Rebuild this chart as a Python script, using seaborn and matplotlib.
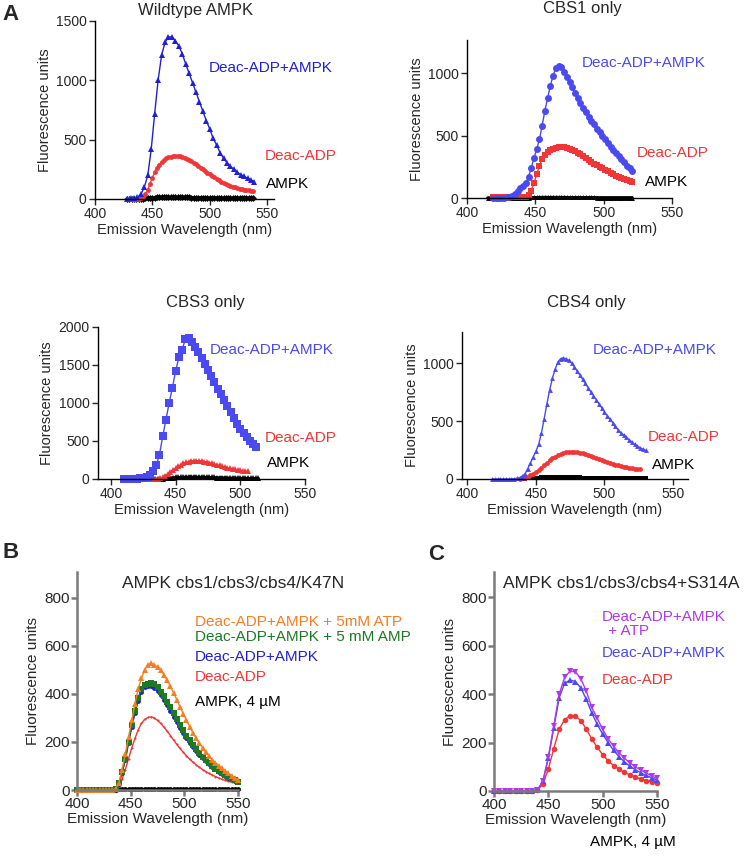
import numpy as np
import seaborn as sns
import matplotlib.pyplot as plt

sns.set_style("ticks")
plt.rcParams['font.family'] = ['Liberation Sans', 'DejaVu Sans']

W, H = 745, 856

# ---------------- data ----------------
# Panel A, Wildtype AMPK
wt_blue_x0, wt_blue_dx = 428, 3
wt_blue = [2, 5, 8, 15, 40, 100, 200, 420, 720, 1000, 1210, 1320, 1365, 1365, 1335,
           1290, 1225, 1140, 1060, 980, 900, 820, 740, 660, 590, 510, 455, 390, 345,
           305, 275, 250, 225, 205, 190, 175, 160, 146]
wt_red_x0, wt_red_dx = 428, 2
wt_red = [0, 0, 0, 0, 0, 0, 5, 15, 40, 80, 130, 180, 225, 260, 290, 312, 330, 342, 350,
          356, 360, 362, 362, 360, 355, 348, 340, 330, 318, 305, 292, 278, 264, 250, 236,
          222, 208, 195, 182, 170, 158, 147, 137, 128, 120, 112, 105, 99, 93, 88, 83, 79,
          75, 72, 69, 66]
wt_black_x0, wt_black_dx = 428, 2
wt_black = [0, 0, 0, 0, 0, 0, 2, 4, 6, 8, 10, 11, 12, 13, 14, 15, 15, 16, 16, 16, 16, 15,
            15, 15, 14, 14, 13, 13, 12, 12, 11, 11, 10, 10, 9, 9, 9, 8, 8, 8, 7, 7, 7, 6,
            6, 6, 6, 5, 5, 5, 5, 5, 5, 5, 5, 5]

# Panel A, CBS1 only
c1_blue_x0, c1_blue_dx = 419, 2
c1_blue = [0, 0, 0, 0, 2, 5, 10, 20, 35, 55, 80, 100, 120, 170, 240, 320, 390, 470, 580,
           700, 800, 900, 980, 1040, 1060, 1045, 1010, 970, 930, 885, 840, 800, 760, 720,
           690, 650, 620, 590, 555, 525, 500, 470, 440, 410, 385, 360, 335, 310, 285, 260,
           240, 220]
c1_red_x0, c1_red_dx = 419, 2
c1_red = [5, 5, 5, 5, 5, 5, 5, 5, 5, 5, 5, 8, 12, 25, 60, 120, 190, 260, 310, 345, 370,
          385, 395, 400, 405, 405, 405, 400, 395, 385, 375, 362, 350, 335, 320, 305, 290,
          275, 262, 250, 237, 225, 213, 202, 190, 180, 170, 160, 150, 142, 135, 128]
c1_black_x0, c1_black_dx = 415, 2
c1_black = [2, 2, 2, 2, 2, 2, 2, 2, 2, 2, 2, 2, 3, 3, 4, 4, 5, 5, 5, 6, 6, 6, 6, 6, 6, 6,
            6, 6, 6, 5, 5, 5, 5, 5, 5, 5, 5, 5, 5, 5, 4, 4, 4, 4, 4, 4, 4, 4, 4, 4, 4, 4,
            4, 4]

# Panel A, CBS3 only
c3_blue_x0, c3_blue_dx = 410, 2.5
c3_blue = [5, 5, 5, 5, 5, 8, 15, 30, 55, 100, 180, 320, 560, 780, 1000, 1200, 1420, 1600,
           1700, 1840, 1850, 1800, 1740, 1670, 1590, 1510, 1430, 1350, 1270, 1190, 1120,
           1040, 960, 880, 800, 730, 660, 600, 550, 500, 460, 425]
c3_red_x0, c3_red_dx = 410, 2
c3_red = [0, 0, 0, 0, 0, 0, 0, 0, 0, 0, 0, 0, 2, 5, 12, 25, 45, 70, 95, 120, 145, 168,
          188, 205, 218, 228, 235, 240, 242, 240, 236, 230, 224, 216, 208, 198, 188, 178,
          168, 158, 150, 142, 135, 128, 122, 116, 111, 106, 102]
c3_black_x0, c3_black_dx = 410, 2
c3_black = [0, 0, 0, 0, 0, 0, 0, 0, 0, 0, 0, 0, 0, 0, 2, 5, 8, 12, 15, 18, 20, 22, 24, 25,
            26, 27, 27, 27, 26, 26, 25, 24, 23, 22, 21, 20, 19, 18, 17, 16, 15, 14, 13,
            13, 12, 11, 11, 10, 10, 9, 9, 8, 8]

# Panel A, CBS4 only
c4_blue_x0, c4_blue_dx = 418, 2
c4_blue = [0, 0, 0, 0, 0, 0, 0, 0, 2, 5, 12, 22, 45, 90, 140, 190, 240, 300, 400, 520,
           650, 770, 870, 950, 1010, 1040, 1045, 1040, 1025, 1000, 970, 935, 900, 862,
           827, 790, 755, 720, 685, 650, 615, 580, 548, 518, 488, 455, 425, 400, 380, 360,
           340, 320, 300, 285, 270, 258, 248]
c4_red_x0, c4_red_dx = 438, 2
c4_red = [0, 5, 12, 20, 32, 45, 60, 78, 98, 118, 140, 160, 178, 193, 207, 218, 226, 232,
          235, 237, 236, 233, 228, 222, 215, 207, 198, 189, 180, 171, 162, 153, 145, 137,
          130, 123, 117, 111, 106, 101, 97, 93, 90, 87, 84]
c4_black_x0, c4_black_dx = 440, 2
c4_black = [2, 3, 5, 7, 9, 11, 12, 13, 14, 15, 15, 16, 16, 16, 16, 15, 15, 15, 14, 14, 13,
            13, 12, 12, 11, 11, 10, 10, 10, 9, 9, 9, 8, 8, 8, 8, 7, 7, 7, 7, 6, 6, 6, 6,
            6, 6]

# Panel B, AMPK cbs1/cbs3/cbs4/K47N
b_x0, b_dx = 400, 3
b_orange = [0] * 12 + [5, 30, 85, 150, 220, 290, 360, 420, 465, 500, 520, 527, 522, 512,
                       498, 480, 458, 432, 405, 376, 346, 318, 290, 263, 238, 215, 195,
                       176, 158, 142, 127, 114, 102, 91, 80, 70, 60, 50, 40]
b_green = [0] * 12 + [5, 28, 75, 130, 200, 270, 330, 385, 420, 438, 443, 444, 440, 428,
                      410, 390, 368, 344, 320, 296, 272, 249, 227, 207, 188, 170, 154, 139,
                      125, 112, 100, 89, 79, 70, 61, 53, 46, 40, 35]
b_blue = [0] * 12 + [5, 25, 70, 125, 195, 262, 320, 372, 408, 428, 435, 433, 425, 412,
                     395, 375, 353, 330, 306, 283, 260, 238, 217, 197, 179, 162, 147, 133,
                     120, 108, 97, 87, 77, 68, 60, 52, 45, 39, 34]
b_red = [0] * 12 + [3, 15, 45, 85, 130, 175, 215, 250, 277, 294, 302, 305, 300, 290, 277,
                    262, 245, 227, 208, 190, 173, 157, 142, 128, 116, 105, 95, 85, 77, 69,
                    62, 56, 50, 45, 40, 36, 33, 30, 28]
b_black = [0] * 12 + [1, 3, 4, 5, 5, 6, 6, 6, 6, 6, 6, 6, 6, 6, 6, 5, 5, 5, 5, 5, 5, 5,
                      4, 4, 4, 4, 4, 4, 4, 4, 4, 3, 3, 3, 3, 3, 3, 3, 3]

# Panel C, AMPK cbs1/cbs3/cbs4+S314A
c_x0, c_dx = 400, 5
c_magenta = [0, 0, 0, 0, 0, 0, 0, 0, 5, 40, 140, 270, 400, 470, 495, 492, 462, 412, 345,
             300, 255, 215, 185, 158, 135, 117, 100, 86, 75, 62, 52]
c_blue = [0, 0, 0, 0, 0, 0, 0, 0, 5, 40, 135, 260, 385, 445, 458, 452, 425, 378, 322, 275,
          235, 200, 168, 142, 120, 103, 88, 75, 64, 55, 45]
c_red = [0, 0, 0, 0, 0, 0, 0, 0, 3, 30, 90, 175, 255, 295, 310, 310, 290, 255, 215, 180,
         150, 125, 105, 90, 77, 66, 57, 50, 43, 38, 33]

BLUE_D = '#2020d2'
BLUE_L = '#4a4af0'
RED = '#f03636'
ORANGE = '#f57d22'
GREEN = '#1c7a22'
MAGENTA = '#b038e8'

fig = plt.figure(figsize=(W / 100, H / 100), dpi=100)


def add_ax(l, t, r, b):
    return fig.add_axes([l / W, 1 - b / H, (r - l) / W, (b - t) / H])


def series(ax, x0, dx, vals, color, marker, ms, lw=1.0):
    x = x0 + dx * np.arange(len(vals))
    sns.lineplot(x=x, y=vals, ax=ax, color=color, marker=marker, markersize=ms,
                 markeredgewidth=0, linewidth=lw, clip_on=False)


def ftext(x, y, s, **kw):
    fig.text(x / W, 1 - y / H, s, va='center', **kw)


def style_a(ax, xlim, ylim, yticks):
    ax.set_xlim(*xlim)
    ax.set_ylim(*ylim)
    ax.set_xticks([400, 450, 500, 550])
    ax.set_yticks(yticks)
    sns.despine(ax=ax)
    for s in ['left', 'bottom']:
        ax.spines[s].set_linewidth(1.0)
        ax.spines[s].set_color('black')
    ax.tick_params(length=4, width=1, labelsize=10, pad=2)
    ax.set_xlabel('Emission Wavelength (nm)', fontsize=10.5, labelpad=1)
    ax.set_ylabel('Fluorescence units', fontsize=10.5, labelpad=3)


def style_bc(ax, ylim):
    ax.set_xlim(400, 550)
    ax.set_ylim(*ylim)
    ax.set_xticks([400, 450, 500, 550])
    ax.set_yticks([0, 200, 400, 600, 800])
    sns.despine(ax=ax)
    for s in ['left', 'bottom']:
        ax.spines[s].set_linewidth(1.8)
        ax.spines[s].set_color('#7a7a7a')
    ax.tick_params(length=4, width=1.8, color='#7a7a7a', labelsize=11, pad=1)
    ax.set_xlabel('Emission Wavelength (nm)', fontsize=11, labelpad=1)
    ax.set_ylabel('Fluorescence units', fontsize=11, labelpad=3)


# ---- A: Wildtype AMPK
ax = add_ax(95, 21, 274, 199)
series(ax, wt_black_x0, wt_black_dx, wt_black, 'black', 'D', 3.5, lw=2)
series(ax, wt_red_x0, wt_red_dx, wt_red, RED, 'o', 3.5)
series(ax, wt_blue_x0, wt_blue_dx, wt_blue, BLUE_D, '^', 4)
style_a(ax, (400, 556), (0, 1500), [0, 500, 1000, 1500])
ftext(196, 10, 'Wildtype AMPK', ha='center', fontsize=12)
ftext(209, 68, 'Deac-ADP+AMPK', color=BLUE_D, fontsize=11)
ftext(265, 156, 'Deac-ADP', color=RED, fontsize=11)
ftext(266, 184, 'AMPK', color='black', fontsize=11)
ftext(2, 14, 'A', fontsize=16, fontweight='bold')

# ---- A: CBS1 only
ax = add_ax(467, 40, 672, 198)
series(ax, c1_black_x0, c1_black_dx, c1_black, 'black', '^', 3.5, lw=2)
series(ax, c1_red_x0, c1_red_dx, c1_red, RED, 's', 4.5)
series(ax, c1_blue_x0, c1_blue_dx, c1_blue, BLUE_L, 'o', 5)
style_a(ax, (400, 550), (0, 1265), [0, 500, 1000])
ftext(582, 8, 'CBS1 only', ha='center', fontsize=12)
ftext(582, 63, 'Deac-ADP+AMPK', color=BLUE_L, fontsize=11)
ftext(637, 153, 'Deac-ADP', color=RED, fontsize=11)
ftext(645, 182, 'AMPK', color='black', fontsize=11)

# ---- A: CBS3 only
ax = add_ax(98, 327, 305, 479)
series(ax, c3_black_x0, c3_black_dx, c3_black, 'black', '^', 4, lw=2)
series(ax, c3_red_x0, c3_red_dx, c3_red, RED, '^', 5)
series(ax, c3_blue_x0, c3_blue_dx, c3_blue, BLUE_L, 's', 5.5)
style_a(ax, (390, 550), (0, 2000), [0, 500, 1000, 1500, 2000])
ftext(205, 302, 'CBS3 only', ha='center', fontsize=12)
ftext(210, 350, 'Deac-ADP+AMPK', color=BLUE_L, fontsize=11)
ftext(265, 438, 'Deac-ADP', color=RED, fontsize=11)
ftext(267, 463, 'AMPK', color='black', fontsize=11)

# ---- A: CBS4 only
ax = add_ax(462, 332, 688, 479)
series(ax, c4_black_x0, c4_black_dx, c4_black, 'black', 's', 3.5, lw=2)
series(ax, c4_red_x0, c4_red_dx, c4_red, RED, 'o', 3.5)
series(ax, c4_blue_x0, c4_blue_dx, c4_blue, BLUE_L, '^', 3.5)
style_a(ax, (396, 561), (0, 1270), [0, 500, 1000])
ftext(586, 302, 'CBS4 only', ha='center', fontsize=12)
ftext(593, 350, 'Deac-ADP+AMPK', color=BLUE_L, fontsize=11)
ftext(648, 437, 'Deac-ADP', color=RED, fontsize=11)
ftext(652, 465, 'AMPK', color='black', fontsize=11)

# ---- B
ax = add_ax(77, 572, 238, 790)
series(ax, b_x0, b_dx, b_black, 'black', 'o', 3.5)
series(ax, b_x0, b_dx, b_red, RED, 'o', 1.5)
series(ax, b_x0, b_dx, b_blue, BLUE_D, 'o', 3.5)
series(ax, b_x0, b_dx, b_green, GREEN, 's', 4.5)
series(ax, b_x0, b_dx, b_orange, ORANGE, '^', 4)
style_bc(ax, (0, 908))
ftext(3, 553, 'B', fontsize=16, fontweight='bold')
ftext(122, 583, 'AMPK cbs1/cbs3/cbs4/K47N', fontsize=12.5)
ftext(195, 622, 'Deac-ADP+AMPK + 5mM ATP', color=ORANGE, fontsize=11)
ftext(195, 637, 'Deac-ADP+AMPK + 5 mM AMP', color=GREEN, fontsize=11)
ftext(195, 657, 'Deac-ADP+AMPK', color=BLUE_D, fontsize=11)
ftext(195, 677, 'Deac-ADP', color=RED, fontsize=11)
ftext(195, 702, 'AMPK, 4 µM', color='black', fontsize=11)

# ---- C
ax = add_ax(494, 572, 657, 791)
series(ax, c_x0, c_dx, c_red, RED, 'o', 4)
series(ax, c_x0, c_dx, c_blue, BLUE_L, '^', 4)
series(ax, c_x0, c_dx, c_magenta, MAGENTA, 'v', 4.5)
style_bc(ax, (0, 904))
ftext(428, 555, 'C', fontsize=16, fontweight='bold')
ftext(503, 583, 'AMPK cbs1/cbs3/cbs4+S314A', fontsize=12.5)
ftext(602, 617, 'Deac-ADP+AMPK', color=MAGENTA, fontsize=11)
ftext(604, 631, ' + ATP', color=MAGENTA, fontsize=11)
ftext(602, 653, 'Deac-ADP+AMPK', color=BLUE_L, fontsize=11)
ftext(602, 680, 'Deac-ADP', color=RED, fontsize=11)
ftext(590, 842, 'AMPK, 4 µM', color='black', fontsize=11)

fig.savefig('out.png', dpi=100)
